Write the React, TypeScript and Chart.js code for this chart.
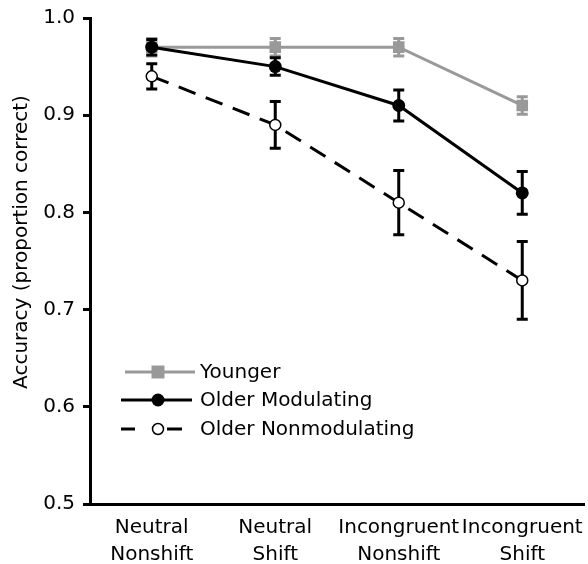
import React, { useEffect, useRef } from "react";
import { Chart, registerables } from "chart.js";

Chart.register(...registerables);

const categories: string[][] = [
  ["Neutral", "Nonshift"],
  ["Neutral", "Shift"],
  ["Incongruent", "Nonshift"],
  ["Incongruent", "Shift"],
];
const seriesNames = ["Younger", "Older Modulating", "Older Nonmodulating"];
const younger = [0.97, 0.97, 0.97, 0.91];
const youngerErr = [0.009, 0.009, 0.009, 0.009];
const olderMod = [0.97, 0.95, 0.91, 0.82];
const olderModErr = [0.008, 0.009, 0.016, 0.022];
const olderNon = [0.94, 0.89, 0.81, 0.73];
const olderNonErr = [0.013, 0.024, 0.033, 0.04];
const yTicks = [0.5, 0.6, 0.7, 0.8, 0.9, 1.0];
const yTitle = "Accuracy (proportion correct)";

const GRAY = "#999999";
const FONT = "'DejaVu Sans', sans-serif";

const errorBarPlugin = {
  id: "errorBars",
  beforeDatasetsDraw(chart: any) {
    const ctx = chart.ctx;
    const yScale = chart.scales.y;
    chart.data.datasets.forEach((ds: any, i: number) => {
      const meta = chart.getDatasetMeta(i);
      if (!meta.visible || !ds.errors) return;
      ctx.save();
      ctx.strokeStyle = ds.errColor;
      ctx.lineWidth = 3;
      meta.data.forEach((pt: any, j: number) => {
        const v = ds.data[j];
        const e = ds.errors[j];
        const yTop = yScale.getPixelForValue(v + e);
        const yBot = yScale.getPixelForValue(v - e);
        const x = pt.x;
        ctx.beginPath();
        ctx.moveTo(x, yTop);
        ctx.lineTo(x, yBot);
        ctx.moveTo(x - 5.5, yTop);
        ctx.lineTo(x + 5.5, yTop);
        ctx.moveTo(x - 5.5, yBot);
        ctx.lineTo(x + 5.5, yBot);
        ctx.stroke();
      });
      ctx.restore();
    });
  },
};

const legendAndTitlePlugin = {
  id: "customLegend",
  afterDraw(chart: any) {
    const ctx = chart.ctx;
    const area = chart.chartArea;
    // y-axis title
    ctx.save();
    ctx.translate(22, (area.top + area.bottom) / 2 - 19);
    ctx.rotate(-Math.PI / 2);
    ctx.font = `20px ${FONT}`;
    ctx.fillStyle = "#000";
    ctx.textAlign = "center";
    ctx.textBaseline = "middle";
    ctx.fillText(yTitle, 0, 0);
    ctx.restore();

    // legend
    const x0 = area.left + 35;
    const rows = [area.top + 354, area.top + 382, area.top + 411];
    const mx = x0 + 33;
    const textX = x0 + 75;
    chart.data.datasets.forEach((ds: any, i: number) => {
      const y = rows[i];
      ctx.save();
      ctx.strokeStyle = ds.borderColor;
      ctx.lineWidth = 3;
      ctx.beginPath();
      if (i === 2) {
        ctx.moveTo(x0 - 4, y);
        ctx.lineTo(x0 + 10, y);
        ctx.moveTo(x0 + 42, y);
        ctx.lineTo(x0 + 57, y);
      } else if (i === 1) {
        ctx.moveTo(x0 - 4, y);
        ctx.lineTo(x0 + 67, y);
      } else {
        ctx.moveTo(x0, y);
        ctx.lineTo(x0 + 70, y);
      }
      ctx.stroke();
      if (i === 0) {
        ctx.fillStyle = ds.pointBackgroundColor;
        ctx.fillRect(mx - 6.5, y - 6.5, 13, 13);
      } else if (i === 1) {
        ctx.fillStyle = "#000";
        ctx.beginPath();
        ctx.arc(mx, y, 6.5, 0, Math.PI * 2);
        ctx.fill();
      } else {
        ctx.fillStyle = "#fff";
        ctx.strokeStyle = "#000";
        ctx.lineWidth = 1.5;
        ctx.beginPath();
        ctx.arc(mx, y, 5.5, 0, Math.PI * 2);
        ctx.fill();
        ctx.stroke();
      }
      ctx.fillStyle = "#000";
      ctx.font = `20px ${FONT}`;
      ctx.textAlign = "left";
      ctx.textBaseline = "middle";
      ctx.fillText(ds.label, textX, y + 1);
      ctx.restore();
    });
  },
};

export default function App() {
  const ref = useRef<HTMLCanvasElement | null>(null);
  useEffect(() => {
    if (!ref.current) return;
    const chart = new Chart(ref.current, {
      type: "line",
      data: {
        labels: categories,
        datasets: [
          {
            label: seriesNames[0],
            data: younger,
            errors: youngerErr,
            errColor: GRAY,
            borderColor: GRAY,
            backgroundColor: GRAY,
            borderWidth: 3,
            pointStyle: "rect",
            pointRadius: 8.2,
            pointBorderWidth: 0,
            pointBackgroundColor: GRAY,
            pointBorderColor: GRAY,
            tension: 0,
            order: 3,
          } as any,
          {
            label: seriesNames[1],
            data: olderMod,
            errors: olderModErr,
            errColor: "#000",
            borderColor: "#000",
            backgroundColor: "#000",
            borderWidth: 3,
            pointStyle: "circle",
            pointRadius: 6.5,
            pointBorderWidth: 0,
            pointBackgroundColor: "#000",
            pointBorderColor: "#000",
            tension: 0,
            order: 1,
          } as any,
          {
            label: seriesNames[2],
            data: olderNon,
            errors: olderNonErr,
            errColor: "#000",
            borderColor: "#000",
            backgroundColor: "#fff",
            borderWidth: 3,
            borderDash: [18, 11],
            pointStyle: "circle",
            pointRadius: 5.5,
            pointBorderWidth: 1.5,
            pointBackgroundColor: "#fff",
            pointBorderColor: "#000",
            tension: 0,
            order: 2,
          } as any,
        ],
      },
      options: {
        responsive: false,
        animation: false,
        devicePixelRatio: 1,
        layout: { padding: { top: 18, right: 4, left: 0, bottom: 0 }, autoPadding: false },
        plugins: {
          legend: { display: false },
          tooltip: { enabled: false },
        },
        scales: {
          x: {
            type: "category",
            offset: true,
            grid: { display: false, drawTicks: false },
            border: { display: true, width: 3, color: "#000" },
            ticks: {
              color: "#000",
              font: { family: FONT, size: 20, lineHeight: 1.35 },
              padding: 10,
              maxRotation: 0,
              autoSkip: false,
            },
            afterFit: (s: any) => {
              s.height = 60;
              s.paddingLeft = 0;
              s.paddingRight = 0;
            },
          },
          y: {
            min: 0.5,
            max: 1.0,
            afterBuildTicks: (s: any) => {
              s.ticks = yTicks.map((v) => ({ value: v }));
            },
            grid: {
              drawOnChartArea: false,
              drawTicks: true,
              tickLength: 7,
              color: "#000",
              lineWidth: 3,
            },
            border: { display: true, width: 3, color: "#000" },
            ticks: {
              color: "#000",
              font: { family: FONT, size: 20 },
              padding: 8,
              callback: (v: any) => Number(v).toFixed(1),
            },
            afterFit: (s: any) => {
              s.width = 90;
              s.paddingTop = 0;
              s.paddingBottom = 0;
            },
          },
        },
      } as any,
      plugins: [errorBarPlugin, legendAndTitlePlugin],
    });
    return () => chart.destroy();
  }, []);
  return (
    <div style={{ position: "absolute", left: 0, top: 0, width: 588, height: 564, background: "#fff" }}>
      <canvas ref={ref} width={588} height={564} />
    </div>
  );
}
